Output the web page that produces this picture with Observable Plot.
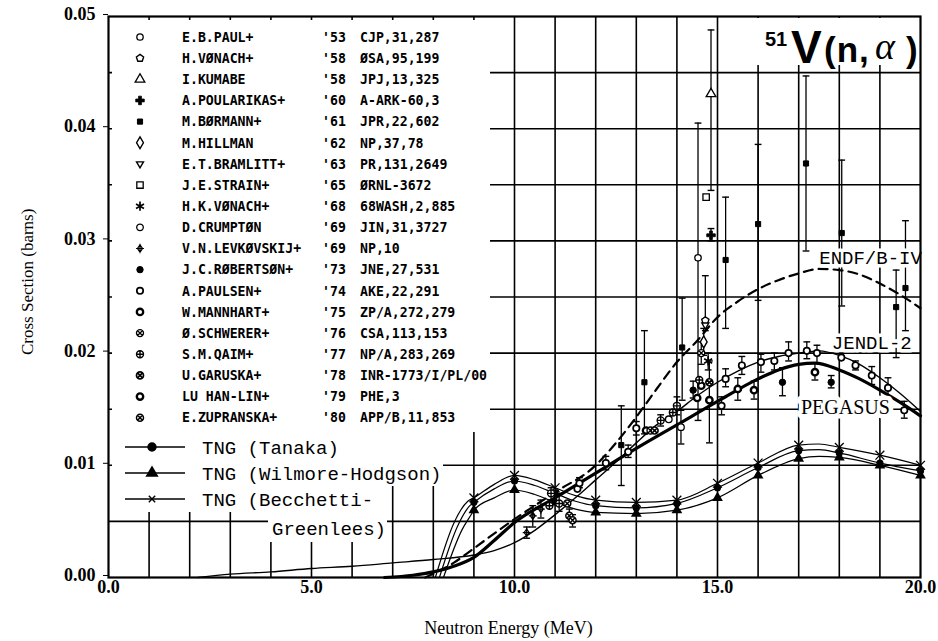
<!DOCTYPE html>
<html><head><meta charset="utf-8">
<script src="https://cdn.jsdelivr.net/npm/d3@7"></script>
<script src="https://cdn.jsdelivr.net/npm/@observablehq/plot@0.6"></script>
<style>html,body{margin:0;padding:0;background:#fff}#chart svg{display:block}</style>
</head><body><div id="chart"></div>
<script>
// ---------------- data ----------------
const xTicks = [0, 5, 10, 15, 20];
const yTicks = [0, 0.01, 0.02, 0.03, 0.04, 0.05];

const refNames = ["E.B.PAUL+","H.VØNACH+","I.KUMABE","A.POULARIKAS+","M.BØRMANN+","M.HILLMAN","E.T.BRAMLITT+","J.E.STRAIN+","H.K.VØNACH+","D.CRUMPTØN","V.N.LEVKØVSKIJ+","J.C.RØBERTSØN+","A.PAULSEN+","W.MANNHART+","Ø.SCHWERER+","S.M.QAIM+","U.GARUSKA+","LU HAN-LIN+","E.ZUPRANSKA+"];
const refYears = ["'53","'58","'58","'60","'61","'62","'63","'65","'68","'69","'69","'73","'74","'75","'76","'77","'78","'79","'80"];
const refCites = ["CJP,31,287","ØSA,95,199","JPJ,13,325","A-ARK-60,3","JPR,22,602","NP,37,78","PR,131,2649","ØRNL-3672","68WASH,2,885","JIN,31,3727","NP,10","JNE,27,531","AKE,22,291","ZP/A,272,279","CSA,113,153","NP/A,283,269","INR-1773/I/PL/00","PHE,3","APP/B,11,853"];

// [reference index, energy MeV, cross section b, error low, error high]
const expData = [
  [0,14.52,0.0285,0.0140,0.0405],
  [1,14.70,0.0229,0.0220,0.0269],
  [2,14.84,0.0431,0.0345,0.0488],
  [3,14.84,0.0305,0.0300,0.0311],
  [4,12.63,0.0118,0.0082,0.0153],
  [4,13.20,0.0174,0.0128,0.0220],
  [4,14.13,0.0205,0.0158,0.0249],
  [4,15.20,0.0283,0.0222,0.0339],
  [4,16.00,0.0315,0.0247,0.0386],
  [4,17.18,0.0369,0.0291,0.0447],
  [4,18.06,0.0307,0.0242,0.0372],
  [4,19.40,0.0241,0.0196,0.0274],
  [4,19.63,0.0258,0.0220,0.0318],
  [5,14.66,0.0210,0.0198,0.0222],
  [6,14.70,0.0225,null,null],
  [7,14.72,0.0339,null,null],
  [8,14.77,0.0193,0.0185,0.0200],
  [9,14.10,0.0134,0.0119,0.0149],
  [9,13.80,0.0141,null,null],
  [10,10.30,0.0040,0.0035,0.0045],
  [10,10.45,0.0055,0.0045,0.0064],
  [10,10.65,0.0061,0.0053,0.0069],
  [11,14.40,0.0167,0.0160,0.0175],
  [11,16.60,0.0174,0.0162,0.0187],
  [11,17.80,0.0174,0.0169,0.0180],
  [12,11.55,0.0079,null,null],
  [12,11.60,0.0084,0.0080,0.0089],
  [12,12.25,0.0102,0.0096,0.0108],
  [12,12.80,0.0112,0.0107,0.0118],
  [12,13.00,0.0133,0.0127,0.0139],
  [13,13.24,0.0131,null,null],
  [14,13.35,0.0131,null,null],
  [16,13.45,0.0131,null,null],
  [15,10.86,0.0064,null,null],
  [15,10.90,0.0075,0.0069,0.0080],
  [15,11.10,0.0066,0.0059,0.0075],
  [18,11.30,0.0066,null,null],
  [18,11.35,0.0055,0.0050,0.0061],
  [18,11.43,0.0051,0.0045,0.0056],
  [15,13.60,0.0140,0.0135,0.0145],
  [15,13.90,0.0147,null,null],
  [15,14.00,0.0153,0.0145,0.0161],
  [13,14.50,0.0160,null,null],
  [15,14.55,0.0176,null,null],
  [13,14.60,0.0171,null,null],
  [14,14.60,0.0200,0.0190,0.0210],
  [16,14.80,0.0174,null,null],
  [17,14.80,0.0158,0.0120,0.0193],
  [12,15.10,0.0153,0.0145,0.0161],
  [12,15.20,0.0177,0.0170,0.0186],
  [17,15.50,0.0168,0.0158,0.0178],
  [12,15.60,0.0189,0.0181,0.0197],
  [17,15.90,0.0167,0.0159,0.0175],
  [12,16.07,0.0192,0.0183,0.0199],
  [12,16.40,0.0193,0.0185,0.0200],
  [12,16.75,0.0200,0.0193,0.0210],
  [12,17.20,0.0202,0.0195,0.0210],
  [17,17.40,0.0183,0.0176,0.0191],
  [12,17.45,0.0200,0.0191,0.0207],
  [12,18.05,0.0196,null,null],
  [12,18.40,0.0189,0.0185,0.0193],
  [12,18.80,0.0180,0.0172,0.0188],
  [12,19.20,0.0169,0.0161,0.0178],
  [12,19.60,0.0149,0.0142,0.0157]
];

// evaluated curves [E, sigma]
const endfCurve = [[7.8,0],[8.5,0.0013],[9,0.0026],[10,0.0052],[11,0.0076],[12,0.0100],[12.5,0.0120],[13,0.0143],[13.5,0.0168],[14,0.0192],[14.5,0.0211],[15,0.0232],[15.5,0.0246],[16,0.0257],[16.5,0.0265],[17,0.0271],[17.5,0.0275],[18,0.0274],[18.5,0.0270],[19,0.0262],[19.5,0.0252],[20,0.0240]];
const jendlCurve = [[2.2,0],[3,0.0003],[4,0.0005],[5,0.0008],[6,0.0010],[7,0.0013],[8,0.0016],[9,0.0020],[9.5,0.0024],[10,0.0031],[10.5,0.0042],[11,0.0056],[11.5,0.0071],[12,0.0087],[12.5,0.0103],[13,0.0120],[13.5,0.0136],[14,0.0148],[14.5,0.0162],[15,0.0174],[15.5,0.0184],[16,0.0192],[16.5,0.0197],[17,0.0200],[17.5,0.0202],[18,0.0198],[18.5,0.0190],[19,0.0178],[19.5,0.0164],[20,0.0148]];
const pegasusCurve = [[6.8,0],[7.5,0.0002],[8,0.0005],[8.5,0.0010],[9,0.0018],[9.5,0.0033],[10,0.0049],[11,0.0071],[12,0.0093],[13,0.0115],[14,0.0136],[15,0.0157],[16,0.0177],[16.5,0.0185],[17,0.0190],[17.4,0.0191],[18,0.0185],[18.5,0.0177],[19,0.0167],[19.5,0.0156],[20,0.0144]];
const tanakaCurve = [[8.15,0],[8.6,0.0046],[8.9,0.0064],[9,0.0067],[9.5,0.0079],[10,0.0086],[10.5,0.0082],[11,0.0075],[11.5,0.0068],[12,0.0064],[13,0.0062],[14,0.0066],[15,0.0080],[16,0.0098],[17,0.0113],[17.5,0.0114],[18,0.0111],[19,0.0102],[20,0.0095]];
const wilmoreCurve = [[8.25,0],[8.7,0.0042],[8.95,0.0057],[9,0.0060],[9.5,0.0071],[10,0.0078],[10.5,0.0074],[11,0.0067],[11.5,0.0061],[12,0.0058],[13,0.0057],[14,0.0060],[15,0.0071],[16,0.0091],[17,0.0106],[17.5,0.0108],[18,0.0107],[19,0.0100],[20,0.0091]];
const becchettiCurve = [[8.05,0],[8.5,0.0048],[8.85,0.0068],[9,0.0071],[9.5,0.0083],[10,0.0091],[10.5,0.0087],[11,0.0080],[11.5,0.0073],[12,0.0069],[13,0.0067],[14,0.0069],[15,0.0084],[16,0.0102],[17,0.0118],[17.5,0.0119],[18,0.0116],[19,0.0109],[20,0.0100]];

// ---------------- symbols & styles ----------------
const rOf = s => Math.sqrt(s / Math.PI);
const symPentagon = {draw(c, s){const r=rOf(s)*1.15;for(let k=0;k<5;k++){const a=-Math.PI/2+k*2*Math.PI/5;k?c.lineTo(r*Math.cos(a),r*Math.sin(a)):c.moveTo(r*Math.cos(a),r*Math.sin(a));}c.closePath();}};
const symTriDown = {draw(c, s){const r=rOf(s)*1.25;c.moveTo(-r*0.87,-r*0.5);c.lineTo(r*0.87,-r*0.5);c.lineTo(0,r);c.closePath();}};
const symCircPlus = {draw(c, s){const r=rOf(s);c.moveTo(r,0);c.arc(0,0,r,0,2*Math.PI);c.moveTo(-r,0);c.lineTo(r,0);c.moveTo(0,-r);c.lineTo(0,r);}};
const symCircTimes = {draw(c, s){const r=rOf(s),q=r*0.707;c.moveTo(r,0);c.arc(0,0,r,0,2*Math.PI);c.moveTo(-q,-q);c.lineTo(q,q);c.moveTo(-q,q);c.lineTo(q,-q);}};
const symDiamondPlus = {draw(c, s){const r=rOf(s)*1.2;c.moveTo(0,-r);c.lineTo(r*0.7,0);c.lineTo(0,r);c.lineTo(-r*0.7,0);c.closePath();c.moveTo(-r*1.1,0);c.lineTo(r*1.1,0);c.moveTo(0,-r*1.3);c.lineTo(0,r*1.3);}};
const symHline = {draw(c, s){const r=rOf(s);c.moveTo(-r,0);c.lineTo(r,0);}};
const symTimes = {draw(c, s){const r=rOf(s)*0.8;c.moveTo(-r,-r);c.lineTo(r,r);c.moveTo(-r,r);c.lineTo(r,-r);}};
const symAster = {draw(c, s){const r=rOf(s);for(let k=0;k<3;k++){const a=Math.PI/2+k*Math.PI/3;c.moveTo(-r*Math.cos(a),-r*Math.sin(a));c.lineTo(r*Math.cos(a),r*Math.sin(a));}}};

const refStyle = [
  {symbol:d3.symbolCircle, r:3.2, fill:"white", sw:1.3},
  {symbol:symPentagon, r:3.3, fill:"white", sw:1.4},
  {symbol:d3.symbolTriangle, r:3.6, fill:"white", sw:1.3},
  {symbol:d3.symbolCross, r:3.6, fill:"black", sw:0.8},
  {symbol:d3.symbolSquare, r:2.9, fill:"black", sw:1},
  {symbol:d3.symbolDiamond, r:3.6, fill:"white", sw:1.4},
  {symbol:symTriDown, r:3.2, fill:"white", sw:1.4},
  {symbol:d3.symbolSquare, r:3.6, fill:"white", sw:1.3},
  {symbol:symAster, r:4.6, fill:"none", sw:1.7},
  {symbol:d3.symbolCircle, r:3.3, fill:"white", sw:1.3},
  {symbol:symDiamondPlus, r:3.0, fill:"white", sw:1.2},
  {symbol:d3.symbolCircle, r:3.2, fill:"black", sw:1},
  {symbol:d3.symbolCircle, r:3.2, fill:"white", sw:1.7},
  {symbol:d3.symbolCircle, r:3.2, fill:"white", sw:2.3},
  {symbol:symCircTimes, r:3.5, fill:"white", sw:1.4},
  {symbol:symCircPlus, r:3.5, fill:"white", sw:1.4},
  {symbol:symCircTimes, r:3.5, fill:"white", sw:1.7},
  {symbol:d3.symbolCircle, r:3.2, fill:"white", sw:2.4},
  {symbol:symCircTimes, r:3.5, fill:"white", sw:1.5}
];

const pts = expData.map(([ref, E, s, lo, hi]) => ({ref, E, s, lo, hi}));
const bars = pts.filter(d => d.lo != null);
const pair = {x: d => d[0], y: d => d[1]};
const atMesh = c => c.filter(d => Number.isInteger(d[0]) && d[0] >= 9);

// ---------------- decorations (pixel layout) ----------------
const maskBoxes = [[112,20,490,432],[112,432,443,486],[112,486,382,512],[268,512,387,542],[727,18,918,65]];
function masks() {
  const g = d3.create("svg:g").attr("fill", "white");
  for (const [x1,y1,x2,y2] of maskBoxes) g.append("rect").attr("x",x1).attr("y",y1).attr("width",x2-x1).attr("height",y2-y1);
  return g.node();
}
function legend() {
  const g = d3.create("svg:g").attr("text-anchor","start").attr("font-family","'DejaVu Sans Mono', monospace").attr("font-size",13.2).attr("font-weight","bold").attr("fill","black");
  refNames.forEach((name, i) => {
    const cy = 37 + 21.15 * i, st = refStyle[i];
    g.append("path").attr("transform",`translate(140,${cy})`).attr("d", d3.symbol(st.symbol, Math.PI*st.r*st.r)())
      .attr("fill", st.fill).attr("stroke","black").attr("stroke-width", st.sw);
    g.append("text").attr("x",182).attr("y",cy).attr("dy","0.36em").text(name);
    g.append("text").attr("x",322).attr("y",cy).attr("dy","0.36em").text(refYears[i]);
    g.append("text").attr("x",360).attr("y",cy).attr("dy","0.36em").text(refCites[i]);
  });
  const t = g.append("g").attr("font-family","'Liberation Mono', monospace").attr("font-size",19).attr("font-weight","normal");
  const rows = [["TNG (Tanaka)",447,d3.symbolCircle,"black"],["TNG (Wilmore-Hodgson)",473,d3.symbolTriangle,"black"],["TNG (Becchetti-",499,symTimes,"none"]];
  rows.forEach(([label, cy, sym, fill]) => {
    t.append("line").attr("x1",125).attr("x2",185).attr("y1",cy).attr("y2",cy).attr("stroke","black").attr("stroke-width",1.4);
    t.append("path").attr("transform",`translate(152,${cy})`).attr("d", d3.symbol(sym, Math.PI*16)()).attr("fill",fill).attr("stroke","black").attr("stroke-width",1.4);
    t.append("text").attr("x",202).attr("y",cy).attr("dy","0.35em").text(label);
  });
  t.append("text").attr("x",272).attr("y",528).attr("dy","0.35em").text("Greenlees)");
  return g.node();
}
function title() {
  const g = d3.create("svg:g").attr("text-anchor","start").attr("fill","black");
  const sans = "'Liberation Sans', Arial, sans-serif";
  g.append("text").attr("x",765).attr("y",46).attr("font-family",sans).attr("font-weight","bold").attr("font-size",20).text("51");
  g.append("text").attr("x",791).attr("y",63).attr("font-family",sans).attr("font-weight","bold").attr("font-size",46).text("V");
  g.append("text").attr("x",824).attr("y",62).attr("font-family",sans).attr("font-weight","bold").attr("font-size",35).attr("letter-spacing",1).text("(n,");
  g.append("text").attr("x",875).attr("y",59).attr("font-family","'Liberation Serif', serif").attr("font-style","italic").attr("font-size",38).text("α");
  g.append("text").attr("x",906).attr("y",62).attr("font-family",sans).attr("font-weight","bold").attr("font-size",35).text(")");
  return g.node();
}

// ---------------- chart ----------------
const marks = [
  Plot.gridX({ticks: d3.range(1, 20), stroke: "black", strokeOpacity: 1, strokeWidth: 1.6}),
  Plot.gridY({ticks: d3.range(1, 10).map(k => k * 0.005), stroke: "black", strokeOpacity: 1, strokeWidth: 1.6}),
  masks,
  Plot.line(jendlCurve, {...pair, curve: "monotone-x", stroke: "black", strokeWidth: 1.4}),
  Plot.line(pegasusCurve, {...pair, curve: "monotone-x", stroke: "black", strokeWidth: 3.2}),
  Plot.line(endfCurve, {...pair, curve: "monotone-x", stroke: "black", strokeWidth: 2.2, strokeDasharray: "9,6"}),
  Plot.line(tanakaCurve, {...pair, curve: "monotone-x", stroke: "black", strokeWidth: 1.2}),
  Plot.line(wilmoreCurve, {...pair, curve: "monotone-x", stroke: "black", strokeWidth: 1.2}),
  Plot.line(becchettiCurve, {...pair, curve: "monotone-x", stroke: "black", strokeWidth: 1.2}),
  Plot.dot(atMesh(tanakaCurve), {...pair, symbol: "circle", r: 3.6, fill: "black"}),
  Plot.dot(atMesh(wilmoreCurve), {...pair, symbol: "triangle", r: 4, fill: "black"}),
  Plot.dot(atMesh(becchettiCurve), {...pair, symbol: symTimes, r: 5.5, fill: "none", stroke: "black", strokeWidth: 1.3}),
  Plot.ruleX(bars, {x: "E", y1: "lo", y2: "hi", stroke: "black", strokeWidth: 1.3}),
  Plot.dot(bars, {x: "E", y: "lo", symbol: symHline, r: 3.4, fill: "none", stroke: "black", strokeWidth: 1.4}),
  Plot.dot(bars, {x: "E", y: "hi", symbol: symHline, r: 3.4, fill: "none", stroke: "black", strokeWidth: 1.4}),
  ...refStyle.map((st, i) => Plot.dot(pts.filter(d => d.ref === i), {x: "E", y: "s", symbol: st.symbol, r: st.r, fill: st.fill, stroke: "black", strokeWidth: st.sw})),
  Plot.text(["ENDF/B-IV"], {x: 18.77, y: 0.0285, text: d => d, fontFamily: "'Liberation Mono', monospace", fontSize: 19, fontWeight: "normal", stroke: "white", strokeWidth: 7, fill: "black"}),
  Plot.text(["JENDL-2"], {x: 18.8, y: 0.0209, text: d => d, fontFamily: "'Liberation Mono', monospace", fontSize: 19, fontWeight: "normal", stroke: "white", strokeWidth: 7, fill: "black"}),
  Plot.text(["PEGASUS"], {x: 18.15, y: 0.0151, text: d => d, fontFamily: "'Liberation Serif', serif", fontSize: 20, fontWeight: "normal", stroke: "white", strokeWidth: 9, fill: "black"}),
  Plot.frame({stroke: "black", strokeWidth: 2.2}),
  Plot.axisX({ticks: xTicks, tickFormat: d => d.toFixed(1), tickSize: 0, tickPadding: 3, fontSize: 18, fontWeight: "bold", fontFamily: "'Liberation Serif', serif", label: null}),
  Plot.axisY({ticks: yTicks, tickFormat: d => d.toFixed(2), tickSize: 5, tickPadding: 8, fontSize: 18, fontWeight: "bold", fontFamily: "'Liberation Serif', serif", dy: -2, label: null}),
  Plot.text(["Neutron Energy (MeV)"], {frameAnchor: "bottom", dx: -6, dy: 56, text: d => d, fontFamily: "'Liberation Serif', serif", fontSize: 18, fontWeight: "normal"}),
  Plot.text(["Cross Section (barns)"], {frameAnchor: "left", dx: -81, dy: 58, rotate: -90, text: d => d, fontFamily: "'Liberation Serif', serif", fontSize: 17, fontWeight: "normal"}),
  legend,
  title
];

const chart = Plot.plot({
  width: 938, height: 641,
  marginTop: 16, marginRight: 18, marginBottom: 64, marginLeft: 108,
  x: {domain: [0, 20]},
  y: {domain: [0, 0.05]},
  style: {background: "white", color: "black", fontFamily: "'Liberation Serif', serif"},
  marks
});
document.getElementById("chart").append(chart);
</script></body></html>
